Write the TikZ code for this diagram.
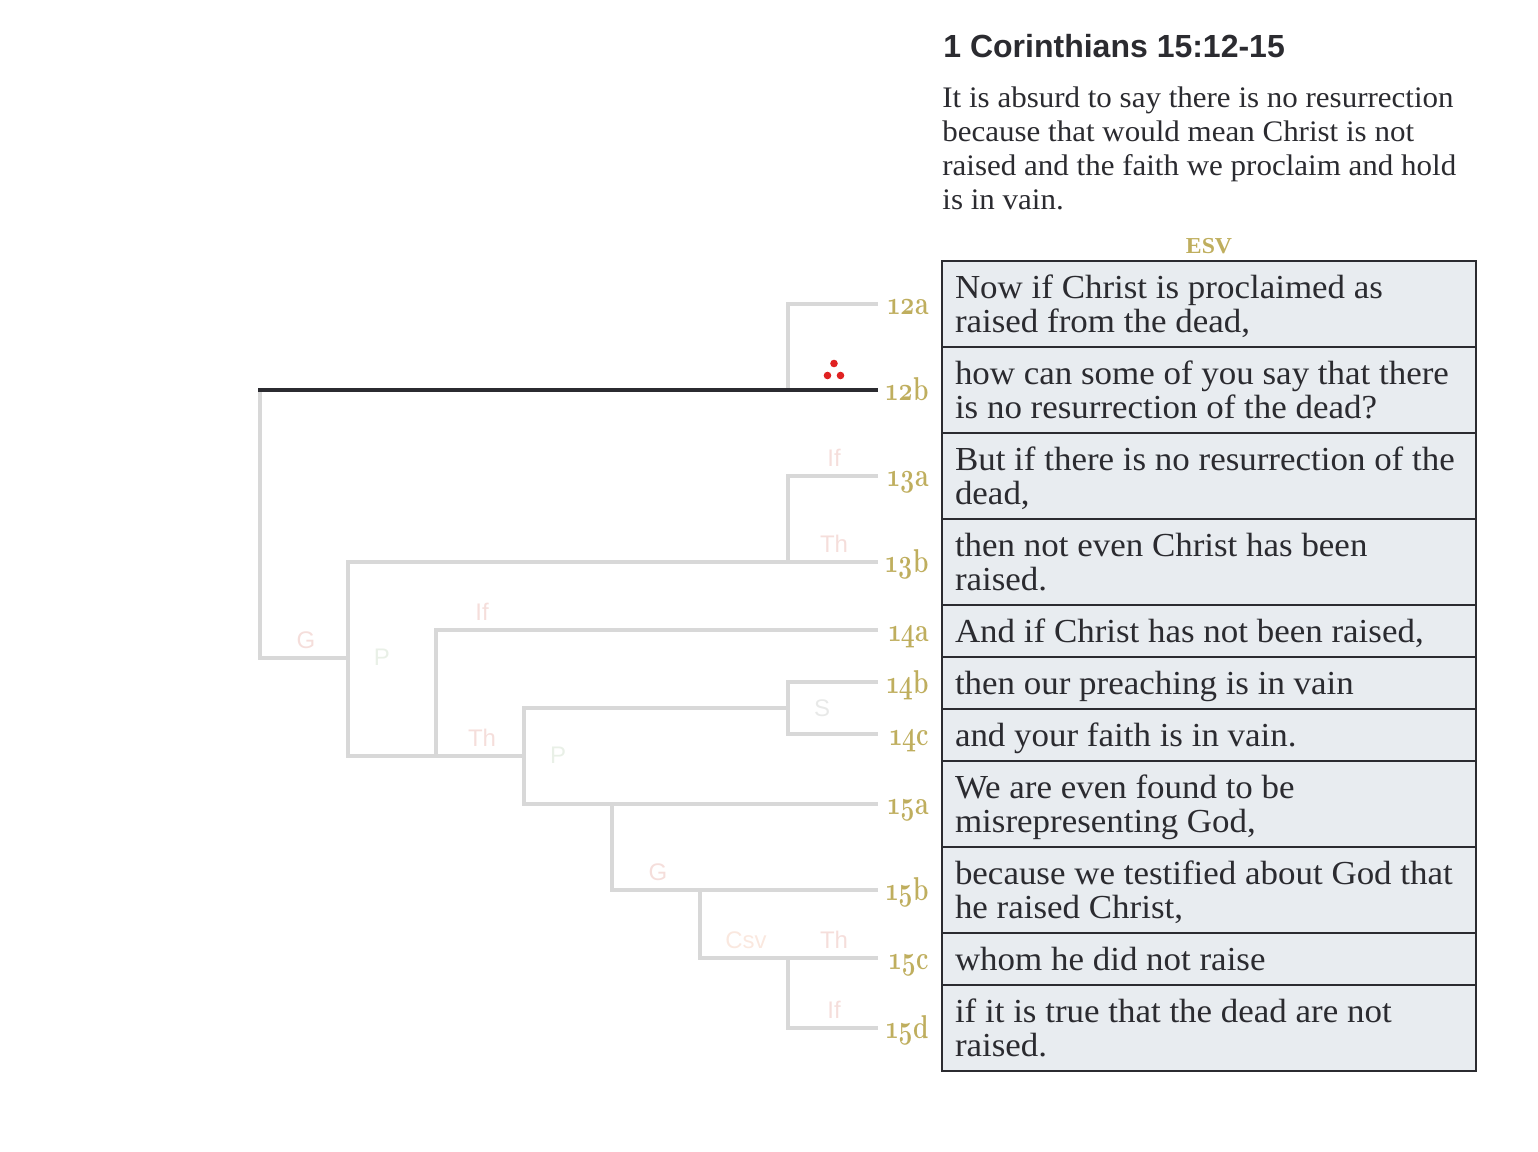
\documentclass[tikz,border=0pt]{standalone}
\usepackage{fontspec}
\setmainfont{Liberation Serif}
\newfontfamily\bodyf[FakeStretch=1.04]{Liberation Serif}
\newfontfamily\paraf[FakeStretch=1.04]{Liberation Serif}
\newfontfamily\esvf[FakeStretch=1.04]{Liberation Serif}
\newfontfamily\sansf{Liberation Sans}
\newfontfamily\numf[Numbers=OldStyle,FakeStretch=0.75]{Latin Modern Roman}
\definecolor{ink}{HTML}{2B2B30}
\definecolor{gold}{HTML}{BFAE5E}
\definecolor{rowfill}{HTML}{E8ECF0}
\definecolor{treegray}{HTML}{D8D8D8}
\definecolor{relred}{HTML}{F5DEDB}
\definecolor{relgreen}{HTML}{E9F0E7}
\definecolor{relgray}{HTML}{E8E9E8}
\definecolor{relorange}{HTML}{FAE8DF}
\definecolor{dotred}{HTML}{E02222}
\newcommand{\tstr}{\rule{0pt}{18.5pt}}
\newcommand{\bstr}{\rule[-7.5pt]{0pt}{7.5pt}}
\tikzset{
  rowbox/.style={draw=ink,fill=rowfill,line width=1pt,inner xsep=6.5pt,inner ysep=0pt,outer sep=0pt,
    text width=254pt,align=flush left,text=ink,font=\bodyf\fontsize{16.8}{17}\selectfont},
  para/.style={anchor=base west,inner sep=0pt,text=ink,font=\paraf\fontsize{14.9}{17}\selectfont},
  vlabel/.style={anchor=base east,inner sep=0pt,text=gold,font=\numf\bfseries\fontsize{16.5}{19}\selectfont},
  rel/.style={inner sep=0pt,font=\sansf\fontsize{12}{14}\selectfont},
  tree/.style={draw=treegray,line width=2pt,line cap=rect},
  main/.style={draw=ink,line width=2pt,line cap=rect},
  dot/.style={circle,fill=dotred,inner sep=0pt,minimum size=3.8pt}
}
\begin{document}
\begin{tikzpicture}[x=0.5pt,y=-0.5pt]
\useasboundingbox (0,0) rectangle (1538,1152);
% heading
\node[anchor=base west,inner sep=0pt,text=ink,font=\sansf\bfseries\fontsize{16}{18}\selectfont] (title) at (943,57.5) {1 Corinthians 15:12-15};
\node[para] (p1) at (942,107) {It is absurd to say there is no resurrection};
\node[para] (p2) at (942,141) {because that would mean Christ is not};
\node[para] (p3) at (942,175) {raised and the faith we proclaim and hold};
\node[para] (p4) at (942,209) {is in vain.};
\node[inner sep=0pt,text=gold,font=\esvf\bfseries\fontsize{11.4}{13}\selectfont] (esv) at (1209,246) {ESV};
% rows
\node[rowbox] (r1) at (1209,304) {\tstr\mbox{Now if Christ is proclaimed as}\\\mbox{raised from the dead,}\bstr};
\node[rowbox] (r2) at (1209,390) {\tstr\mbox{how can some of you say that there}\\\mbox{is no resurrection of the dead?}\bstr};
\node[rowbox] (r3) at (1209,476) {\tstr\mbox{But if there is no resurrection of the}\\\mbox{dead,}\bstr};
\node[rowbox] (r4) at (1209,562) {\tstr\mbox{then not even Christ has been}\\\mbox{raised.}\bstr};
\node[rowbox] (r5) at (1209,631) {\tstr\mbox{And if Christ has not been raised,}\bstr};
\node[rowbox] (r6) at (1209,683) {\tstr\mbox{then our preaching is in vain}\bstr};
\node[rowbox] (r7) at (1209,735) {\tstr\mbox{and your faith is in vain.}\bstr};
\node[rowbox] (r8) at (1209,804) {\tstr\mbox{We are even found to be}\\\mbox{misrepresenting God,}\bstr};
\node[rowbox] (r9) at (1209,890) {\tstr\mbox{because we testified about God that}\\\mbox{he raised Christ,}\bstr};
\node[rowbox] (r10) at (1209,959) {\tstr\mbox{whom he did not raise}\bstr};
\node[rowbox] (r11) at (1209,1028) {\tstr\mbox{if it is true that the dead are not}\\\mbox{raised.}\bstr};
% verse labels
\foreach \n/\t/\y in {l12a/12a/314,l12b/12b/400,l13a/13a/486,l13b/13b/572,l14a/14a/641,l14b/14b/693,l14c/14c/745,l15a/15a/814,l15b/15b/900,l15c/15c/969,l15d/15d/1038}
  \node[vlabel] (\n) at (929,\y) {\t};
% tree joints
\foreach \n/\x/\y in {
 e12a/876/304,e12b/876/390,e13a/876/476,e13b/876/562,e14a/876/630,e14b/876/682,e14c/876/734,
 e15a/876/804,e15b/876/890,e15c/876/958,e15d/876/1028,
 a/788/304,b/788/390,c/260/390,d/260/658,f/348/658,g/348/562,h/788/476,i/788/562,
 j/348/756,k/436/756,m/436/630,o/524/756,q/524/708,s/788/708,t/788/682,u/788/734,
 v/524/804,w/612/804,x/612/890,z/700/890,aa/700/958,ab/788/958,ac/788/1028}
  \coordinate (\n) at (\x,\y);
% tree
\draw[tree] (e12a) -- (a) -- (b);
\draw[tree] (c) -- (d) -- (f);
\draw[tree] (j) -- (g) -- (e13b);
\draw[tree] (e13a) -- (h) -- (i);
\draw[tree] (j) -- (o);
\draw[tree] (k) -- (m) -- (e14a);
\draw[tree] (e15a) -- (v) -- (q) -- (s);
\draw[tree] (e14b) -- (t) -- (u) -- (e14c);
\draw[tree] (w) -- (x) -- (e15b);
\draw[tree] (z) -- (aa) -- (e15c);
\draw[tree] (ab) -- (ac) -- (e15d);
\draw[main] (c) -- (e12b);
% relation labels
\node[rel,text=relred] (n1) at (306,640) {G};
\node[rel,text=relgreen] (n2) at (382,657) {P};
\node[rel,text=relred] (n3) at (482,612) {If};
\node[rel,text=relred] (n4) at (482,738) {Th};
\node[rel,text=relgreen] (n5) at (558,755) {P};
\node[rel,text=relred] (n6) at (834,458) {If};
\node[rel,text=relred] (n7) at (834,544) {Th};
\node[rel,text=relgray] (n8) at (822,708) {S};
\node[rel,text=relred] (n9) at (658,872) {G};
\node[rel,text=relorange] (n10) at (746,940) {Csv};
\node[rel,text=relred] (n11) at (834,940) {Th};
\node[rel,text=relred] (n12) at (834,1010) {If};
% dots
\node[dot] (d1) at (834,363.5) {};
\node[dot] (d2) at (827.5,375.5) {};
\node[dot] (d3) at (840.5,375.5) {};
\end{tikzpicture}
\end{document}
